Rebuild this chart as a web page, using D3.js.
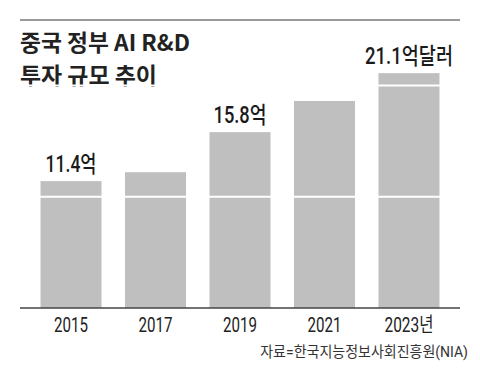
<!DOCTYPE html>
<html><head><meta charset="utf-8">
<script src="https://cdn.jsdelivr.net/npm/d3@7"></script>
<style>html,body{margin:0;padding:0;background:#fff;}</style>
</head><body>
<svg id="c" width="480" height="380"></svg>
<script>
const years = ["2015","2017","2019","2021","2023"];
const yearLabels = ["2015","2017","2019","2021","2023년"];
const values = [11.4, 12.2, 15.8, 18.6, 21.1];
const valueLabels = ["11.4억", "", "15.8억", "", "21.1억달러"];
const gridValues = [10, 20];
const titleLines = ["중국 정부 AI R&D", "투자 규모 추이"];
const source = "자료=한국지능정보사회진흥원(NIA)";

const svg = d3.select("#c");
const FONT = "Roboto, 'Noto Sans CJK KR', sans-serif";
const x = d3.scaleBand().domain(years).range([20, 460]).paddingInner(0.278).paddingOuter(0.243);
const y = d3.scaleLinear().domain([0, 20]).range([308, 85.4]);

// draws text, horizontally condensed so that its width matches the target width
function txt(g, s, px, py, opts) {
  const t = g.append("text")
    .attr("text-anchor", opts.anchor || "start")
    .attr("font-family", opts.family || FONT)
    .attr("font-size", opts.size)
    .attr("font-weight", opts.weight || 400)
    .attr("fill", opts.fill || "#222")
    .text(s);
  const w = t.node().getComputedTextLength();
  const sx = opts.w ? opts.w / w : 1;
  t.attr("transform", `translate(${px},${py}) scale(${sx},1)`);
  return t;
}

// top rule
svg.append("line").attr("x1", 20).attr("x2", 460).attr("y1", 20).attr("y2", 20)
  .attr("stroke", "#999").attr("stroke-width", 2);

// title
const titleW = [170, 137];
titleLines.forEach((s, i) => txt(svg, s, 20, 51 + i * 33, {w: titleW[i], size: 22.5, weight: 700, fill: "#222", family: "'Noto Sans CJK KR', sans-serif"}));

// bars
svg.selectAll("rect.bar").data(years).enter().append("rect")
  .attr("x", d => x(d)).attr("width", x.bandwidth())
  .attr("y", (d, i) => y(values[i])).attr("height", (d, i) => y(0) - y(values[i]))
  .attr("fill", "#bfbfbf");

// white grid lines over bars
svg.selectAll("line.grid").data(gridValues).enter().append("line")
  .attr("x1", 20).attr("x2", 460).attr("y1", d => y(d)).attr("y2", d => y(d))
  .attr("stroke", "#fff").attr("stroke-width", 2);

// axis
const axis = svg.append("g").attr("transform", `translate(0,${y(0)})`)
  .call(d3.axisBottom(x).tickSize(0).tickFormat(""));
axis.select(".domain").attr("stroke", "#444").attr("stroke-width", 1.5).attr("d", "M20,0H460");

const yearW = [34, 34, 34, 34, 49];
years.forEach((d, i) => txt(svg, yearLabels[i], x(d) + x.bandwidth() / 2, 332, {w: yearW[i], size: 20, anchor: "middle", fill: "#222"}));

// value labels
const valW = [51, 0, 53, 0, 88];
years.forEach((d, i) => {
  if (valueLabels[i]) txt(svg, valueLabels[i], x(d) + x.bandwidth() / 2, y(values[i]) - 9, {w: valW[i], size: 23, anchor: "middle", weight: 500, fill: "#1a1a1a"});
});

// source
txt(svg, source, 468, 357, {w: 208, size: 15, anchor: "end", fill: "#333"});
</script>
</body></html>
